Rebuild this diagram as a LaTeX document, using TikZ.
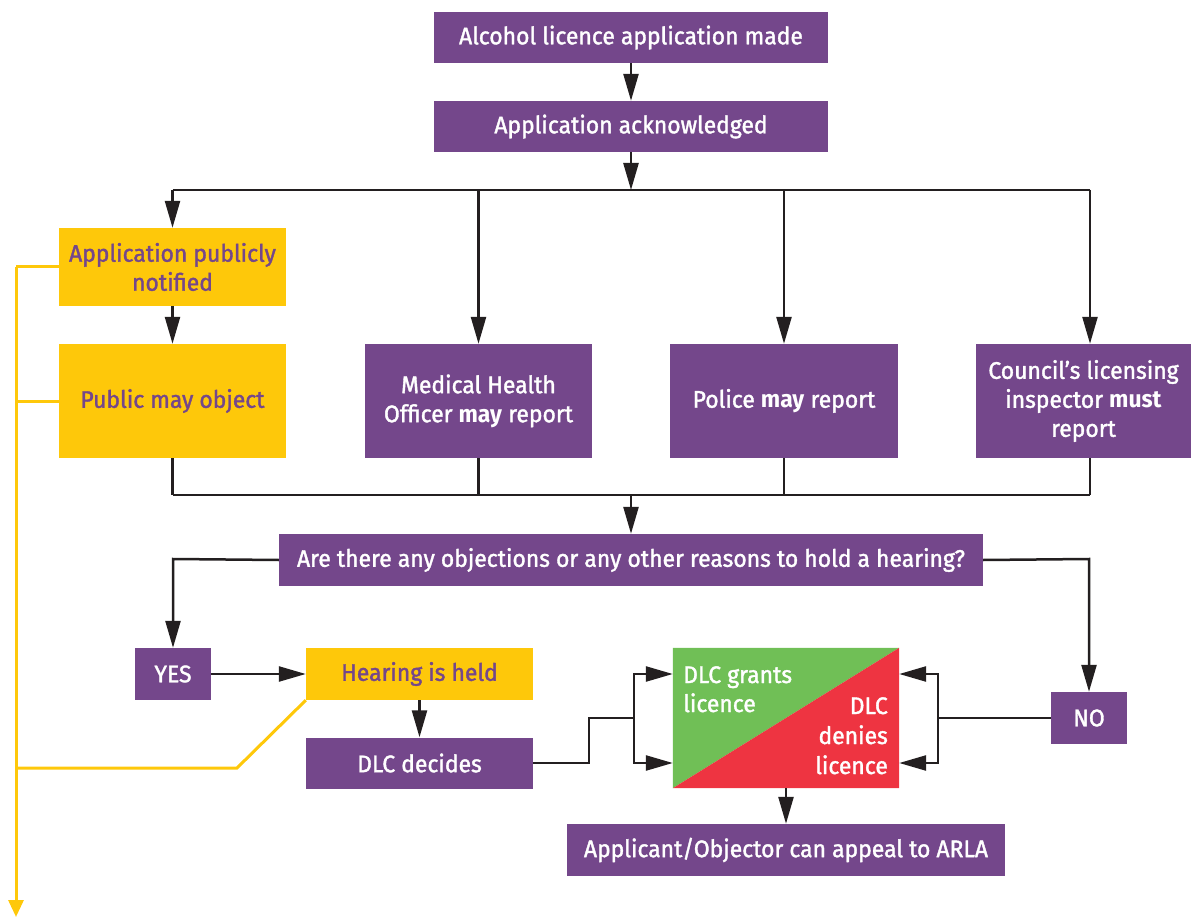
\documentclass[tikz,border=0pt]{standalone}
\usepackage{fontspec}
\setmainfont[FakeStretch=0.955, UprightFeatures={FakeBold=1.5}]{Fira Sans}
\usetikzlibrary{arrows.meta}
\definecolor{purp}{HTML}{74478B}
\definecolor{yel}{HTML}{FEC80A}
\definecolor{grn}{HTML}{70BF56}
\definecolor{rd}{HTML}{EE3441}
\definecolor{ink}{HTML}{231F20}
\newcommand\boxfont{\fontsize{24}{29}\selectfont}
\begin{document}
\begin{tikzpicture}[x=1pt,y=-1pt,
 box/.style={rectangle, inner sep=0pt, align=center, font=\boxfont},
 pbox/.style={box, fill=purp, text=white},
 ybox/.style={box, fill=yel, text=purp},
 conn/.style={draw=ink, line width=2.5pt},
 arr/.style={conn, -{Triangle[length=27pt,width=15pt]}},
 yconn/.style={draw=yel, line width=3pt},
 yarr/.style={yconn, -{Triangle[length=17pt,width=15pt]}},
 lbl/.style={inner sep=0pt, font=\boxfont, text=white},
]
\useasboundingbox (0,0) rectangle (1192,917);

% boxes
\node[pbox, minimum width=394pt, minimum height=51pt] (b1) at (631,37.5) {Alcohol licence application made};
\node[pbox, minimum width=394pt, minimum height=51pt] (b2) at (631,126.5) {Application acknowledged};
\node[ybox, minimum width=227pt, minimum height=78pt] (notif) at (172.5,267) {Application publicly\\notified};
\node[ybox, minimum width=227pt, minimum height=114pt] (pub) at (172.5,401) {Public may object};
\node[pbox, minimum width=227pt, minimum height=114pt] (mho) at (478.5,401) {Medical Health\\Officer \textbf{may} report};
\node[pbox, minimum width=228pt, minimum height=114pt] (pol) at (784,401) {Police \textbf{may} report};
\node[pbox, minimum width=215pt, minimum height=114pt] (cou) at (1083.5,401) {Council’s licensing\\inspector \textbf{must}\\report};
\node[pbox, minimum width=704pt, minimum height=52pt] (q) at (631,560) {Are there any objections or any other reasons to hold a hearing?};
\node[pbox, minimum width=76pt, minimum height=52pt] (yes) at (173,674) {YES};
\node[ybox, minimum width=227pt, minimum height=52pt] (hear) at (419.5,674) {Hearing is held};
\node[pbox, minimum width=227pt, minimum height=51pt] (dlcd) at (419.5,763) {DLC decides};
\node[pbox, minimum width=76pt, minimum height=52pt] (no) at (1089,718) {NO};
\node[pbox, minimum width=438pt, minimum height=52pt] (app) at (786,850) {Applicant/Objector can appeal to ARLA};

% DLC split box
\node[rectangle, inner sep=0pt, minimum width=226pt, minimum height=140pt] (dlc) at (786,718) {};
\fill[grn] (dlc.north west) -- (dlc.north east) -- (dlc.south west) -- cycle;
\fill[rd] (dlc.north east) -- (dlc.south east) -- (dlc.south west) -- cycle;
\node[lbl, anchor=north west, align=left] (grant) at (683,666) {DLC grants\\licence};
\node[lbl, anchor=north east, align=right, font=\fontsize{24}{30}\selectfont] (deny) at (888,697) {DLC\\denies\\licence};

% coordinates
\coordinate (top) at (631,190);
\coordinate (tl) at (172.5,190);
\coordinate (tr) at (1090,190);
\coordinate (bot) at (631,495);
\coordinate (bl) at (172.5,495);
\coordinate (br) at (1090,495);
\coordinate (qy) at (173,559);
\coordinate (qn) at (1089,559);
\coordinate (lm1) at (589,763);
\coordinate (lm2) at (589,718);
\coordinate (lj) at (634,718);
\coordinate (lt) at (634,674);
\coordinate (lb) at (634,763);
\coordinate (rj) at (938,718);
\coordinate (rt) at (938,674);
\coordinate (rb) at (938,763);
\coordinate (y1) at (16,267);
\coordinate (y2) at (16,401);
\coordinate (y3) at (16,768);
\coordinate (ybend) at (237,768);
\coordinate (yend) at (16,917);

% black connectors
\draw[arr] (b1) -- (b2);
\draw[arr] (b2) -- (top);
\draw[conn] (tl) -- (tr);
\draw[arr] (tl) -- (notif);
\draw[arr] (mho.north |- top) -- (mho);
\draw[arr] (pol.north |- top) -- (pol);
\draw[arr] (tr) -- (tr |- cou.north);
\draw[arr] (notif) -- (pub);
\draw[conn] (pub.south) -- (bl);
\draw[conn] (mho.south) -- (mho.south |- bot);
\draw[conn] (pol.south) -- (pol.south |- bot);
\draw[conn] (br |- cou.south) -- (br);
\draw[conn] (bl) -- (br);
\draw[arr] (bot) -- (q);
\draw[arr] (q.west) -- (qy) -- (yes);
\draw[arr] (q.east) -- (qn) -- (no);
\draw[arr] (yes) -- (hear);
\draw[arr] (hear) -- (dlcd);
\draw[conn] (dlcd.east) -- (lm1) -- (lm2) -- (lj);
\draw[arr] (lj) -- (lt) -- (lt -| dlc.west);
\draw[arr] (lj) -- (lb) -- (lb -| dlc.west);
\draw[conn] (no.west) -- (rj);
\draw[arr] (rj) -- (rt) -- (rt -| dlc.east);
\draw[arr] (rj) -- (rb) -- (rb -| dlc.east);
\draw[arr] (dlc) -- (app);

% yellow connectors
\draw[yconn] (notif.west) -- (y1);
\draw[yconn] (pub.west) -- (y2);
\draw[yconn] (hear.south west) -- (ybend) -- (y3);
\draw[yarr] (y1) -- (yend);
\end{tikzpicture}
\end{document}
